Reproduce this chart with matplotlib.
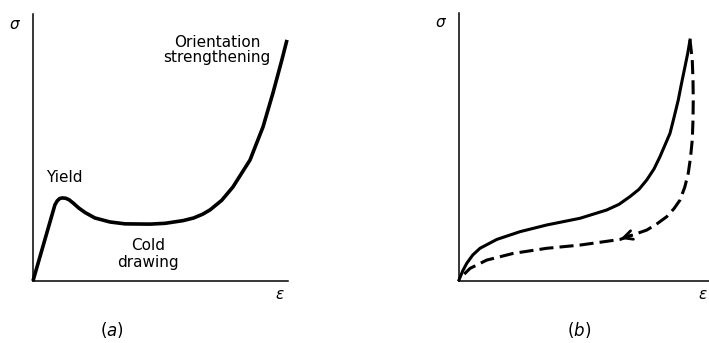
import matplotlib.pyplot as plt

# (a) stress-strain curve of a polymer that yields and cold draws
strain_a = [0.0, 0.086, 0.095, 0.105, 0.115, 0.128, 0.142, 0.160, 0.180, 0.205,
            0.243, 0.302, 0.361, 0.459, 0.518, 0.588, 0.630, 0.665, 0.694,
            0.740, 0.784, 0.851, 0.902, 0.941, 0.976, 0.996]
stress_a = [0.0, 0.285, 0.300, 0.309, 0.311, 0.310, 0.304, 0.290, 0.273, 0.256,
            0.236, 0.221, 0.214, 0.213, 0.216, 0.226, 0.236, 0.250, 0.266,
            0.302, 0.352, 0.453, 0.577, 0.704, 0.828, 0.903]

# (b) loading (solid) and unloading (dashed) of an elastomer
strain_load = [0.0, 0.015, 0.031, 0.055, 0.084, 0.151, 0.244, 0.351, 0.484,
               0.591, 0.640, 0.684, 0.720, 0.751, 0.780, 0.804, 0.844, 0.860,
               0.877, 0.890, 0.904, 0.915, 0.924]
stress_load = [0.004, 0.038, 0.066, 0.097, 0.122, 0.155, 0.184, 0.209, 0.234,
               0.265, 0.286, 0.315, 0.342, 0.377, 0.418, 0.464, 0.551, 0.610,
               0.675, 0.737, 0.800, 0.850, 0.899]

strain_unload = [0.924, 0.933, 0.936, 0.937, 0.936, 0.933, 0.926, 0.917, 0.903,
                 0.884, 0.860, 0.831, 0.790, 0.751, 0.644, 0.484, 0.351, 0.217,
                 0.111, 0.044, 0.004]
stress_unload = [0.899, 0.825, 0.750, 0.675, 0.600, 0.526, 0.460, 0.402, 0.350,
                 0.302, 0.270, 0.240, 0.212, 0.190, 0.155, 0.134, 0.122, 0.103,
                 0.078, 0.047, 0.010]

plt.rcParams['font.family'] = 'DejaVu Sans'
plt.rcParams['mathtext.fontset'] = 'dejavusans'

fig = plt.figure(figsize=(7.09, 3.43), dpi=100)
ax1 = fig.add_axes([0.0465, 0.1808, 0.3597, 0.7784])
ax2 = fig.add_axes([0.6474, 0.1808, 0.3526, 0.7813])

for ax in (ax1, ax2):
    ax.set_xlim(0, 1)
    ax.set_ylim(0, 1)
    ax.set_xticks([])
    ax.set_yticks([])
    ax.spines['top'].set_visible(False)
    ax.spines['right'].set_visible(False)
    ax.spines['left'].set_linewidth(1.1)
    ax.spines['bottom'].set_linewidth(1.1)
    ax.patch.set_alpha(0)

ax1.plot(strain_a, stress_a, color='black', lw=2.6, clip_on=False,
         solid_capstyle='butt', solid_joinstyle='round')
ax1.text(0.122, 0.386, 'Yield', ha='center', va='center', fontsize=11)
ax1.text(0.451, 0.101, 'Cold\ndrawing', ha='center', va='center',
         fontsize=11, linespacing=1.15)
ax1.text(0.722, 0.865, 'Orientation\nstrengthening', ha='center',
         va='center', fontsize=11, linespacing=1.05)
ax1.text(-0.071, 0.959, r'$\sigma$', ha='center', va='center', fontsize=11)
ax1.text(0.969, -0.052, r'$\epsilon$', ha='center', va='center', fontsize=11)

ax2.plot(strain_load, stress_load, color='black', lw=2.2, clip_on=False,
         solid_joinstyle='round')
ax2.plot(strain_unload, stress_unload, color='black', lw=2.2, clip_on=False,
         dashes=(4.6, 2.0), dash_joinstyle='round')
ax2.annotate('', xy=(0.636, 0.154), xytext=(0.700, 0.174),
             arrowprops=dict(arrowstyle='->', lw=2.0, color='black',
                             mutation_scale=16))
ax2.text(-0.072, 0.963, r'$\sigma$', ha='center', va='center', fontsize=11)
ax2.text(0.975, -0.049, r'$\epsilon$', ha='center', va='center', fontsize=11)

fig.text(0.158, 0.038, r'$(a)$', ha='center', va='center', fontsize=12)
fig.text(0.817, 0.038, r'$(b)$', ha='center', va='center', fontsize=12)

fig.savefig('out.png', dpi=100, facecolor='white')
